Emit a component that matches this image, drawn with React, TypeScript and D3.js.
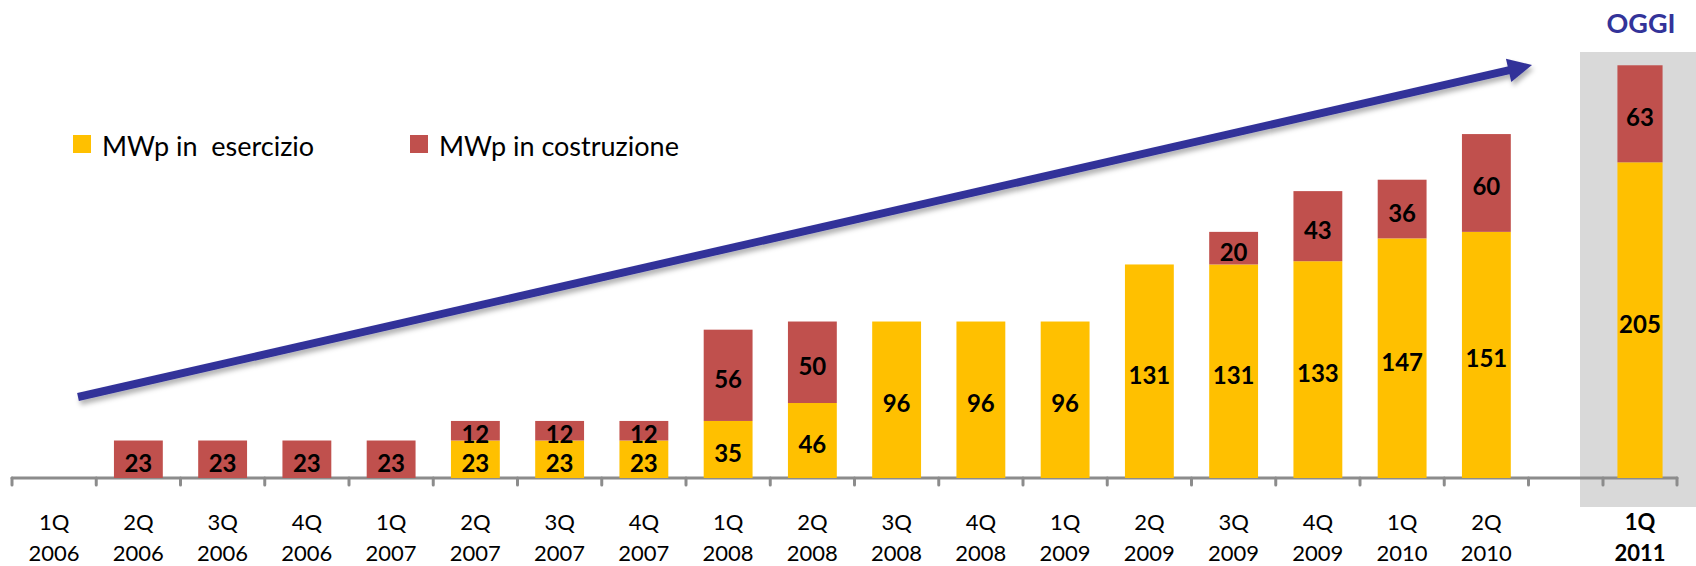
import * as d3 from 'd3';

// quarters shown in the main chart
const quarters = [
    "1Q 2006", "2Q 2006", "3Q 2006", "4Q 2006",
    "1Q 2007", "2Q 2007", "3Q 2007", "4Q 2007",
    "1Q 2008", "2Q 2008", "3Q 2008", "4Q 2008",
    "1Q 2009", "2Q 2009", "3Q 2009", "4Q 2009",
    "1Q 2010", "2Q 2010"
];
const inEsercizio = [0, 0, 0, 0, 0, 23, 23, 23, 35, 46, 96, 96, 96, 131, 131, 133, 147, 151];
const inCostruzione = [0, 23, 23, 23, 23, 12, 12, 12, 56, 50, 0, 0, 0, 0, 20, 43, 36, 60];

// the "today" panel
const todayQuarter = ["1Q 2011"];
const todayEsercizio = [205];
const todayCostruzione = [63];

const seriesKeys = ["esercizio", "costruzione"];
const seriesLabels = ["MWp in  esercizio", "MWp in costruzione"];
const seriesColors = ["#FFC000", "#C0504D"];

const W = 1696;
const H = 566;
const baseY = 478;
const FONT = "Lato, 'Noto Sans', sans-serif";

type Row = { q: string; esercizio: number; costruzione: number };

function buildRows(qs: string[], a: number[], b: number[]): Row[] {
    return qs.map((q, i) => ({ q, esercizio: a[i], costruzione: b[i] }));
}

export default function App() {
    const mainRows = buildRows(quarters, inEsercizio, inCostruzione);
    const todayRows = buildRows(todayQuarter, todayEsercizio, todayCostruzione);

    const x = d3.scaleBand<string>()
        .domain(quarters)
        .range([12, 12 + 84.25 * quarters.length])
        .paddingInner(0.42)
        .paddingOuter(0.21);

    const xToday = d3.scaleBand<string>()
        .domain(todayQuarter)
        .range([1603, 1677])
        .paddingInner(0.39)
        .paddingOuter(0.195);

    const y = d3.scaleLinear().domain([0, 250]).range([baseY, baseY - 250 * 1.63]);
    const yToday = d3.scaleLinear().domain([0, 300]).range([baseY, baseY - 300 * 1.54]);

    const stack = d3.stack<Row>().keys(seriesKeys);
    const mainSeries = stack(mainRows);
    const todaySeries = stack(todayRows);

    // tick positions on band boundaries
    const mainTicks = d3.range(quarters.length + 1).map(i => x.range()[0] + i * x.step());
    const todayTicks = [xToday.range()[0], xToday.range()[1]];

    // trend arrow
    const tail = [78, 397];
    const tip = [1532, 65];
    const dx = tip[0] - tail[0], dy = tip[1] - tail[1];
    const len = Math.hypot(dx, dy);
    const ux = dx / len, uy = dy / len;
    const headLen = 24, headHalf = 12;
    const bx = tip[0] - ux * headLen, by = tip[1] - uy * headLen;
    const head = [
        [tip[0], tip[1]],
        [bx - uy * headHalf, by + ux * headHalf],
        [bx + uy * headHalf, by - ux * headHalf]
    ];

    const drawBars = (
        series: d3.Series<Row, string>[],
        xs: d3.ScaleBand<string>,
        ys: d3.ScaleLinear<number, number>
    ) => series.map((s, si) => (
        <g key={s.key} fill={seriesColors[si]}>
            {s.map(d => {
                const v = d[1] - d[0];
                if (v <= 0) return null;
                return (
                    <rect key={d.data.q}
                        x={xs(d.data.q)}
                        y={ys(d[1])}
                        width={xs.bandwidth()}
                        height={ys(d[0]) - ys(d[1])} />
                );
            })}
        </g>
    ));

    const drawValues = (
        series: d3.Series<Row, string>[],
        xs: d3.ScaleBand<string>,
        ys: d3.ScaleLinear<number, number>
    ) => series.map(s => (
        <g key={s.key} fontFamily={FONT} fontWeight="bold" fontSize={24} textAnchor="middle" fill="#000">
            {s.map(d => {
                const v = d[1] - d[0];
                if (v <= 0) return null;
                const cy = (ys(d[0]) + ys(d[1])) / 2;
                return (
                    <text key={d.data.q} x={(xs(d.data.q) ?? 0) + xs.bandwidth() / 2} y={cy + 12.5}>
                        {v}
                    </text>
                );
            })}
        </g>
    ));

    const drawLabels = (qs: string[], xs: d3.ScaleBand<string>, bold: boolean) => qs.map(q => {
        const [a, b] = q.split(" ");
        const cx = (xs(q) ?? 0) + xs.bandwidth() / 2;
        return (
            <text key={q} x={cx} textAnchor="middle" fontFamily={FONT} fontSize={22}
                fontWeight={bold ? "bold" : "normal"} fill="#000">
                <tspan x={cx} y={530}>{a}</tspan>
                <tspan x={cx} y={561}>{b}</tspan>
            </text>
        );
    });

    return (
        <svg width={W} height={H} viewBox={`0 0 ${W} ${H}`}
            style={{ position: "absolute", left: 0, top: 0, background: "#fff" }}>
            <defs>
                <filter id="arrowShadow" x="-5%" y="-20%" width="110%" height="140%">
                    <feDropShadow dx="2" dy="4" stdDeviation="2.5" floodColor="#000" floodOpacity="0.3" />
                </filter>
            </defs>

            {/* today panel background */}
            <rect x={1580} y={52} width={W - 1580} height={507 - 52} fill="#D9D9D9" />
            <text x={xToday(todayQuarter[0])! + xToday.bandwidth() / 2 + 1} y={33}
                textAnchor="middle" fontFamily={FONT} fontWeight="bold" fontSize={27} fill="#333399">
                OGGI
            </text>

            {/* axis */}
            <g stroke="#8C8C8C" strokeWidth={3} strokeLinecap="round">
                <line x1={mainTicks[0]} x2={todayTicks[1]} y1={baseY} y2={baseY} />
                {mainTicks.concat(todayTicks).map((t, i) => (
                    <line key={i} x1={t} x2={t} y1={baseY} y2={baseY + 7} />
                ))}
            </g>

            {drawBars(mainSeries, x, y)}
            {drawBars(todaySeries, xToday, yToday)}
            {drawValues(mainSeries, x, y)}
            {drawValues(todaySeries, xToday, yToday)}

            {drawLabels(quarters, x, false)}
            {drawLabels(todayQuarter, xToday, true)}

            {/* legend */}
            <g fontFamily={FONT} fontSize={27} fill="#000">
                {seriesLabels.map((label, i) => {
                    const lx = i === 0 ? 73 : 410;
                    return (
                        <g key={label}>
                            <rect x={lx} y={135} width={18} height={18} fill={seriesColors[i]} />
                            <text x={lx + 29} y={156} style={{ whiteSpace: "pre" }}>{label}</text>
                        </g>
                    );
                })}
            </g>

            {/* trend arrow */}
            <g filter="url(#arrowShadow)" fill="#333399" stroke="none">
                <line x1={tail[0]} y1={tail[1]} x2={bx + ux * 2} y2={by + uy * 2}
                    stroke="#333399" strokeWidth={8} />
                <polygon points={head.map(p => p.join(",")).join(" ")} />
            </g>
        </svg>
    );
}
